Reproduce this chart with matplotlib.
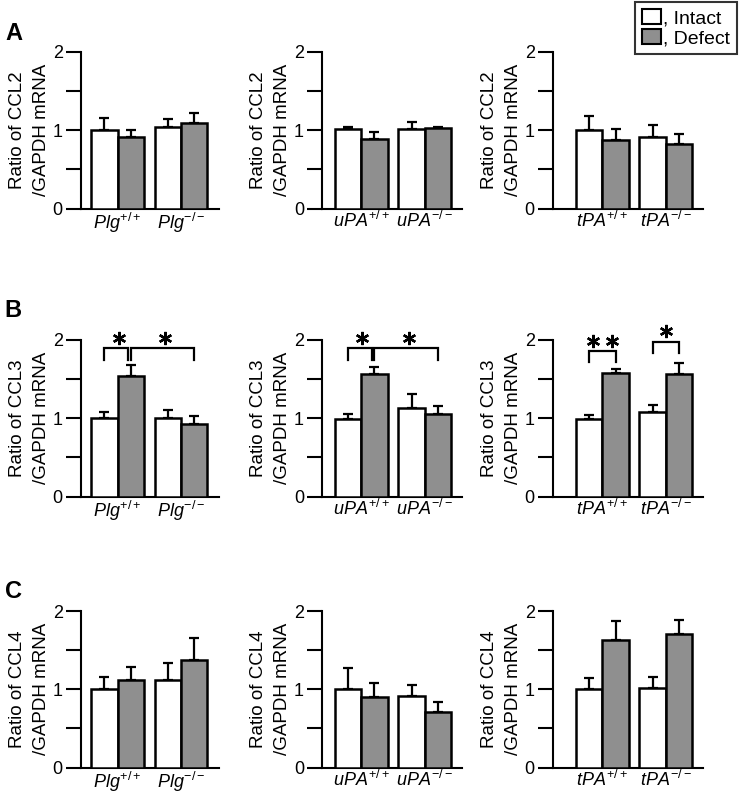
import matplotlib
matplotlib.use('Agg')
import matplotlib.pyplot as plt
from matplotlib.patches import Patch
import numpy as np

plt.rcParams['font.family'] = ['Liberation Sans', 'DejaVu Sans']
plt.rcParams['mathtext.fontset'] = 'custom'
plt.rcParams['mathtext.it'] = 'Liberation Sans:italic'
plt.rcParams['mathtext.rm'] = 'Liberation Sans'

# genes (rows) and mouse lines (columns)
genes = ['CCL2', 'CCL3', 'CCL4']
lines = ['Plg', 'uPA', 'tPA']
panel_letters = ['A', 'B', 'C']

# order of values: Plg+/+, Plg-/-, uPA+/+, uPA-/-, tPA+/+, tPA-/-
ccl2_intact = [1.00, 1.04, 1.01, 1.01, 1.00, 0.92]
ccl2_intact_err = [0.16, 0.11, 0.03, 0.09, 0.18, 0.15]
ccl2_defect = [0.915, 1.09, 0.885, 1.03, 0.876, 0.83]
ccl2_defect_err = [0.085, 0.13, 0.095, 0.01, 0.14, 0.12]

ccl3_intact = [1.00, 1.00, 0.995, 1.136, 0.99, 1.08]
ccl3_intact_err = [0.077, 0.11, 0.055, 0.175, 0.05, 0.09]
ccl3_defect = [1.54, 0.93, 1.56, 1.055, 1.58, 1.57]
ccl3_defect_err = [0.14, 0.10, 0.09, 0.105, 0.05, 0.14]

ccl4_intact = [1.00, 1.12, 1.00, 0.92, 1.00, 1.017]
ccl4_intact_err = [0.16, 0.22, 0.27, 0.135, 0.145, 0.143]
ccl4_defect = [1.12, 1.375, 0.90, 0.706, 1.63, 1.706]
ccl4_defect_err = [0.165, 0.275, 0.185, 0.134, 0.247, 0.174]

intact_all = [ccl2_intact, ccl3_intact, ccl4_intact]
intact_err_all = [ccl2_intact_err, ccl3_intact_err, ccl4_intact_err]
defect_all = [ccl2_defect, ccl3_defect, ccl4_defect]
defect_err_all = [ccl2_defect_err, ccl3_defect_err, ccl4_defect_err]

# significance brackets for CCL3 row: (column, x1, x2, top, leg bottom, star y, star xs)
ccl3_sig = [
    (0, 0.0, 0.9, 1.895, 1.745, 2.02, [0.54]),
    (0, 1.0, 3.4, 1.895, 1.745, 2.02, [2.3]),
    (1, 0.0, 0.9, 1.895, 1.745, 2.02, [0.54]),
    (1, 1.0, 3.4, 1.895, 1.745, 2.02, [2.3]),
    (2, 0.0, 1.0, 1.86, 1.72, 1.99, [0.15, 0.85]),
    (2, 2.4, 3.4, 1.98, 1.83, 2.12, [2.9]),
]

W, H = 740, 793
fig = plt.figure(figsize=(W / 100, H / 100), dpi=100)

# axes geometry in pixels
col_left = [80.7, 322, 552.7]
col_width = [138.5, 139.7, 150]
col_xlim = [(-0.9, 4.35), (-0.98, 4.29), (-1.37, 4.29)]
row_top = [52, 340, 611]
row_h = 156.5

grey = '#8f8f8f'
intact_x = np.array([0, 2.4])
defect_x = intact_x + 1

axes = {}
for r in range(3):
    for c in range(3):
        ax = fig.add_axes([col_left[c] / W, 1 - (row_top[r] + row_h) / H,
                           col_width[c] / W, row_h / H])
        axes[(r, c)] = ax
        im = np.array(intact_all[r][2 * c:2 * c + 2])
        ie = np.array(intact_err_all[r][2 * c:2 * c + 2])
        dm = np.array(defect_all[r][2 * c:2 * c + 2])
        de = np.array(defect_err_all[r][2 * c:2 * c + 2])

        ax.bar(intact_x, im, width=1, color='white', edgecolor='black', lw=1.8, zorder=3)
        ax.bar(defect_x, dm, width=1, color=grey, edgecolor='black', lw=1.8, zorder=3)
        ax.errorbar(intact_x, im, yerr=[np.zeros(2), ie], fmt='none', ecolor='black',
                    elinewidth=1.6, capsize=3.8, capthick=1.6, zorder=2, clip_on=False)
        ax.errorbar(defect_x, dm, yerr=[np.zeros(2), de], fmt='none', ecolor='black',
                    elinewidth=1.6, capsize=3.8, capthick=1.6, zorder=2, clip_on=False)

        ax.set_xlim(*col_xlim[c])
        ax.set_ylim(0, 2)
        ax.set_yticks([0, 0.5, 1, 1.5, 2])
        ax.set_yticklabels(['0', '', '1', '', '2'])
        ax.set_xticks(intact_x + 0.5)
        ax.set_xticklabels([r'$\mathit{%s}^{+/+}$' % lines[c],
                            r'$\mathit{%s}^{-/-}$' % lines[c]], fontsize=13)
        ax.tick_params(axis='x', length=0, pad=1.5)
        ax.tick_params(axis='y', length=10.5, width=1.5, pad=2.5, labelsize=13)
        for s in ['top', 'right']:
            ax.spines[s].set_visible(False)
        for s in ['left', 'bottom']:
            ax.spines[s].set_linewidth(1.5)
        ax.set_ylabel('Ratio of %s\n/GAPDH mRNA' % genes[r], fontsize=13.5,
                      linespacing=1.55, labelpad=2)

# brackets and stars
for c, x1, x2, top, leg, sy, sxs in ccl3_sig:
    ax = axes[(1, c)]
    ax.plot([x1, x1, x2, x2], [leg, top, top, leg], color='black', lw=1.6,
            clip_on=False, zorder=4, solid_joinstyle='miter')
    ax.plot(sxs, [sy] * len(sxs), ls='none', marker=(6, 2, 0), ms=9.5, mew=1.7,
            color='black', clip_on=False, zorder=4)

# panel letters
letter_pos = [(14, 33), (13, 311), (13, 591)]
for letter, (px, py) in zip(panel_letters, letter_pos):
    fig.text(px / W, 1 - py / H, letter, fontsize=17, fontweight='bold',
             ha='center', va='center')

# legend
handles = [Patch(facecolor='white', edgecolor='black', lw=1.5),
           Patch(facecolor=grey, edgecolor='black', lw=1.5)]
leg = fig.legend(handles, [', Intact', ', Defect'], loc='upper right',
                 bbox_to_anchor=(737 / W, 1 - 2 / H), fontsize=14,
                 frameon=True, fancybox=False, edgecolor='black',
                 handlelength=1.0, handleheight=0.8, handletextpad=0.1,
                 borderpad=0.35, labelspacing=0.12, borderaxespad=0)
leg.get_frame().set_linewidth(1.5)

fig.savefig('out.png', dpi=100)
